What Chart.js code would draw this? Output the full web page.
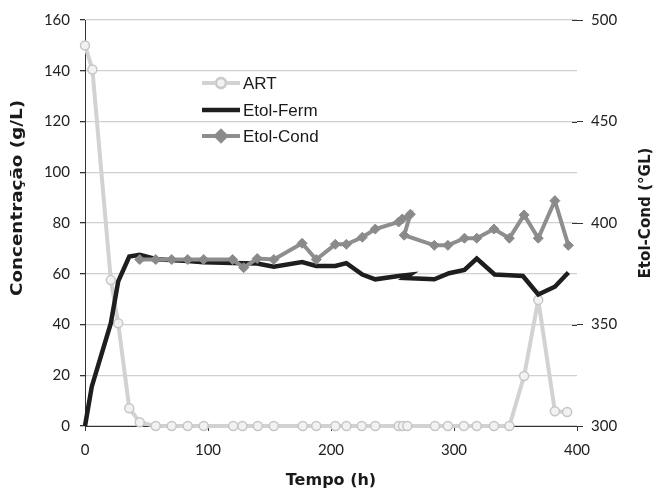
<!DOCTYPE html>
<html>
<head>
<meta charset="utf-8">
<script src="https://cdn.jsdelivr.net/npm/chart.js@4/dist/chart.umd.min.js"></script>
<style>
  html, body { margin: 0; padding: 0; background: #ffffff; }
  #wrap { width: 658px; height: 491px; }
</style>
</head>
<body>
<div id="wrap"><canvas id="c" width="658" height="491"></canvas></div>
<script>
// Sampling times (h) and measured values for each series
const artTime  = [0, 6, 21, 27, 36, 44.5, 57.5, 70.5, 83.5, 96.5, 120.5, 128, 140.5, 153.5, 177, 188, 203.5, 212.5, 225, 236, 255, 258.5, 262, 284.5, 295, 308, 318.5, 332.5, 345, 357, 368.5, 382, 392];
const artVal   = [150, 140.5, 57.5, 40.5, 7, 1.5, 0, 0, 0, 0, 0, 0, 0, 0, 0, 0, 0, 0, 0, 0, 0, 0, 0, 0, 0, 0, 0, 0, 0, 19.7, 49.7, 5.8, 5.5];

const fermTime = [0, 5.5, 21, 27, 36, 44.5, 58, 83.5, 96.5, 120, 140, 153.5, 176.5, 188, 203.5, 212.5, 225.5, 236, 255, 264, 260, 284, 296, 308.5, 318.5, 333, 345, 356, 368.5, 382, 393];
const fermVal  = [0, 15.5, 40.5, 57, 66.8, 67.5, 65.7, 65, 64.5, 64.2, 64, 62.8, 64.6, 63.1, 63.1, 64.2, 59.7, 57.8, 59.1, 59.6, 58.3, 57.8, 60.2, 61.5, 66, 59.7, 59.4, 59.1, 51.8, 54.9, 60.5];

const condTime = [44.5, 57.5, 70.5, 83.5, 96.5, 120, 129, 140, 153.5, 176.5, 188, 203.5, 212.5, 225.5, 236, 255, 258, 264.5, 259.5, 284, 295, 308.5, 318.5, 332.5, 345, 357, 368.5, 382, 393];
const condVal  = [382, 382, 382, 382, 382, 382, 378, 382.5, 382, 390, 382, 389.5, 389.5, 393, 397, 400.5, 402, 404.3, 394, 389, 389, 392.5, 392.5, 397, 392.5, 404, 392.5, 411, 389];

const seriesNames = ['ART', 'Etol-Ferm', 'Etol-Cond'];
const xTicks  = [0, 100, 200, 300, 400];
const yTicks  = [0, 20, 40, 60, 80, 100, 120, 140, 160];
const y2Ticks = [300, 350, 400, 450, 500];

const xTitle  = 'Tempo (h)';
const yTitle  = 'Concentração (g/L)';
const y2Title = 'Etol-Cond (°GL)';

const pts = (xs, ys) => xs.map((x, i) => ({ x: x, y: ys[i] }));

const TICK_FONT = { family: 'Lato', size: 15 };
const TICK_COLOR = '#222222';
const AXIS_COLOR = '#333333';

// Vertical axis titles, the legend, and the inner half of the right-axis ticks
const decorations = {
  id: 'decorations',
  afterDraw(chart) {
    const ctx = chart.ctx;
    const area = chart.chartArea;

    // right-axis tick marks cross the plot edge
    const y2 = chart.scales.y2;
    ctx.save();
    ctx.strokeStyle = AXIS_COLOR;
    ctx.lineWidth = 1;
    y2.ticks.forEach(t => {
      const py = Math.round(y2.getPixelForValue(t.value)) + 0.5;
      ctx.beginPath();
      ctx.moveTo(area.right - 5, py);
      ctx.lineTo(area.right, py);
      ctx.stroke();
    });
    ctx.restore();

    // rotated titles, reading bottom to top
    const vText = (text, cx, cy, len) => {
      ctx.save();
      ctx.translate(cx, cy);
      ctx.rotate(-Math.PI / 2);
      ctx.font = 'bold 16px "DejaVu Sans"';
      const w = ctx.measureText(text).width;
      ctx.scale(len / w, 1);
      ctx.fillStyle = '#1a1a1a';
      ctx.textAlign = 'center';
      ctx.textBaseline = 'middle';
      ctx.fillText(text, 0, 0);
      ctx.restore();
    };
    vText(yTitle, 18, 198, 196);
    vText(y2Title, 646, 213, 131);

    // legend
    const rows = [83, 110, 136];
    chart.data.datasets.forEach((ds, i) => {
      const y = rows[i];
      ctx.save();
      ctx.strokeStyle = ds.borderColor;
      ctx.lineWidth = ds.borderWidth;
      ctx.beginPath();
      ctx.moveTo(202, y);
      ctx.lineTo(240, y);
      ctx.stroke();
      if (ds.pointRadius > 0) {
        Chart.helpers.drawPoint(ctx, {
          pointStyle: ds.pointStyle,
          radius: ds.pointRadius,
          borderWidth: ds.pointBorderWidth,
          rotation: 0
        }, 221, y);
        ctx.fillStyle = ds.pointBackgroundColor;
        ctx.strokeStyle = ds.pointBorderColor;
        ctx.lineWidth = ds.pointBorderWidth;
        ctx.beginPath();
        if (ds.pointStyle === 'circle') {
          ctx.arc(221, y, ds.pointRadius, 0, Math.PI * 2);
        } else {
          const r = ds.pointRadius;
          ctx.moveTo(221, y - r); ctx.lineTo(221 + r, y);
          ctx.lineTo(221, y + r); ctx.lineTo(221 - r, y);
          ctx.closePath();
        }
        ctx.fill();
        ctx.stroke();
      }
      ctx.fillStyle = '#1a1a1a';
      ctx.font = '17px "Liberation Sans"';
      ctx.textAlign = 'left';
      ctx.textBaseline = 'middle';
      ctx.fillText(ds.label, 243, y + 1);
      ctx.restore();
    });
  }
};

new Chart(document.getElementById('c'), {
  type: 'line',
  data: {
    datasets: [
      {
        label: seriesNames[0],
        data: pts(artTime, artVal),
        yAxisID: 'y',
        borderColor: '#d2d2d2',
        borderWidth: 4,
        pointStyle: 'circle',
        pointRadius: 4.5,
        pointBorderWidth: 1.5,
        pointBorderColor: '#c6c6c6',
        pointBackgroundColor: '#f2f2f2',
        tension: 0,
        clip: false,
        order: 3
      },
      {
        label: seriesNames[1],
        data: pts(fermTime, fermVal),
        yAxisID: 'y',
        borderColor: '#1e1e1e',
        borderWidth: 4.5,
        pointRadius: 0,
        tension: 0,
        clip: false,
        order: 2
      },
      {
        label: seriesNames[2],
        data: pts(condTime, condVal),
        yAxisID: 'y2',
        borderColor: '#8e8e8e',
        borderWidth: 4,
        pointStyle: 'rectRot',
        pointRadius: 5,
        pointBorderWidth: 1,
        pointBorderColor: '#8a8a8a',
        pointBackgroundColor: '#8a8a8a',
        tension: 0,
        clip: false,
        order: 1
      }
    ]
  },
  options: {
    responsive: false,
    animation: false,
    devicePixelRatio: 1,
    layout: { padding: { top: 20, left: 0, right: 0, bottom: 0 } },
    plugins: {
      legend: { display: false },
      tooltip: { enabled: false }
    },
    scales: {
      x: {
        type: 'linear',
        min: 0, max: 400,
        afterBuildTicks: s => { s.ticks = xTicks.map(v => ({ value: v })); },
        afterFit: s => { s.height = 65; },
        grid: { drawOnChartArea: false, tickLength: 5, tickColor: AXIS_COLOR },
        border: { display: true, color: AXIS_COLOR, width: 1 },
        ticks: { font: TICK_FONT, color: TICK_COLOR, padding: 10, maxRotation: 0 },
        title: {
          display: true, text: xTitle, color: '#1a1a1a',
          font: { family: 'DejaVu Sans', size: 16, weight: 'bold' },
          padding: { top: 0, bottom: 1 }
        }
      },
      y: {
        position: 'left',
        min: 0, max: 160,
        afterBuildTicks: s => { s.ticks = yTicks.map(v => ({ value: v })); },
        afterFit: s => { s.width = 85; },
        grid: { color: '#d0d0d0', lineWidth: 1.3, tickLength: 5, tickColor: AXIS_COLOR },
        border: { display: true, color: AXIS_COLOR, width: 1 },
        ticks: { font: TICK_FONT, color: TICK_COLOR, padding: 10 }
      },
      y2: {
        position: 'right',
        min: 300, max: 500,
        afterBuildTicks: s => { s.ticks = y2Ticks.map(v => ({ value: v })); },
        afterFit: s => { s.width = 81; },
        grid: { drawOnChartArea: false, tickLength: 6, tickColor: AXIS_COLOR },
        border: { display: false },
        ticks: { font: TICK_FONT, color: TICK_COLOR, padding: 8 }
      }
    }
  },
  plugins: [decorations]
});
</script>
</body>
</html>
